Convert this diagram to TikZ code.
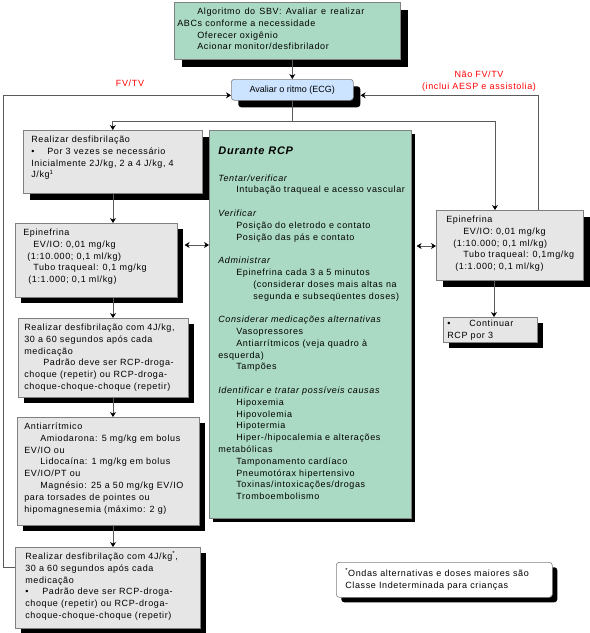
\documentclass[tikz,border=0pt]{standalone}
\usepackage{fontspec}
\setmainfont{Liberation Sans}[LetterSpace=7]
\newfontfamily\ritmofont{Liberation Sans}
\usetikzlibrary{arrows.meta,shadows,calc}
\definecolor{verde}{RGB}{170,218,196}
\definecolor{azul}{RGB}{204,228,255}
\definecolor{cinza}{RGB}{230,230,230}
\definecolor{borda}{RGB}{128,128,128}
\definecolor{traco}{RGB}{90,90,90}
\definecolor{vermelho}{RGB}{255,0,0}
\newcommand{\linhas}[1]{\begin{tabular}{@{}l@{}}#1\end{tabular}}
\newcommand{\bloco}[3]{\parbox[t][#2][t]{#1}{\linhas{#3}}}
\newcommand{\marca}[1]{\makebox[#1][l]{\textbullet}}

\begin{document}
\begin{tikzpicture}[x=1pt, y=-1pt,
  caixa/.style={draw=borda, line width=0.6pt, anchor=north west, inner xsep=7pt, inner ysep=4pt,
    font=\fontsize{9}{11.8}\selectfont,
    drop shadow={shadow xshift=#1, shadow yshift=-#1, fill=black, opacity=1}},
  caixa/.default=6pt,
  rotulo/.style={text=vermelho, font=\fontsize{9}{11.8}\selectfont},
  liga/.style={draw=traco, line width=0.7pt},
  >={Stealth[length=5pt, width=6pt, color=black]}]
\useasboundingbox (0,0) rectangle (590,633);

% caixas
\node[caixa=8pt, fill=verde, inner xsep=3pt] (topo) at (174,2) {\bloco{220pt}{49pt}{%
  \hspace*{20pt}\makebox[167pt][s]{Algoritmo do SBV: Avaliar e realizar}\\
  ABCs conforme a necessidade\\
  \hspace*{20pt}Oferecer oxigênio\\
  \hspace*{20pt}Acionar monitor/desfibrilador}};
\node[caixa=7pt, fill=azul, rounded corners=3pt, inner sep=0pt, minimum width=122pt, minimum height=21pt,
  font=\ritmofont\fontsize{9}{11}\selectfont] (ritmo) at (231,79) {Avaliar o ritmo (ECG)};
\node[caixa=7pt, fill=cinza, inner xsep=8pt] (desf1) at (23,130) {\bloco{163pt}{55pt}{%
  Realizar desfibrilação\\
  \marca{16pt}Por 3 vezes se necessário\\
  Inicialmente 2J/kg, 2 a 4 J/kg, 4\\
  J/kg\textsuperscript{1}}};
\node[caixa, fill=cinza, inner xsep=8pt] (epi1) at (15,223) {\bloco{146pt}{66pt}{%
  Epinefrina\\
  \hspace*{10pt}EV/IO: 0,01 mg/kg\\
  \hspace*{4pt}(1:10.000; 0,1 ml/kg)\\
  \hspace*{10pt}Tubo traqueal: 0,1 mg/kg\\
  \hspace*{5pt}(1:1.000; 0,1 ml/kg)}};
\node[caixa, fill=cinza, inner xsep=6pt] (desf2) at (18,318) {\bloco{158pt}{71pt}{%
  Realizar desfibrilação com 4J/kg,\\
  30 a 60 segundos após cada\\
  medicação\\
  \hspace*{19pt}Padrão deve ser RCP-droga-\\
  choque (repetir) ou RCP-droga-\\
  choque-choque-choque (repetir)}};
\node[caixa, fill=cinza] (antiarr) at (17,417) {\bloco{168pt}{100pt}{%
  Antiarrítmico\\
  \hspace*{16pt}Amiodarona: 5 mg/kg em bolus\\
  EV/IO ou\\
  \hspace*{16pt}Lidocaína: 1 mg/kg em bolus\\
  EV/IO/PT ou\\
  \hspace*{16pt}Magnésio: 25 a 50 mg/kg EV/IO\\
  para torsades de pointes ou\\
  hipomagnesemia (máximo: 2 g)}};
\node[caixa, fill=cinza, inner xsep=10pt] (desf3) at (15,547) {\bloco{165pt}{73pt}{%
  Realizar desfibrilação com 4J/kg\textsuperscript{*},\\
  30 a 60 segundos após cada\\
  medicação\\
  \marca{17pt}Padrão deve ser RCP-droga-\\
  choque (repetir) ou RCP-droga-\\
  choque-choque-choque (repetir)}};
\node[caixa=4pt, fill=verde, inner xsep=9pt] (rcp) at (209,130) {\bloco{184pt}{380pt}{%
  \rule{0pt}{20pt}{\fontsize{11}{11.8}\selectfont\bfseries\itshape Durante RCP}\\[15pt]
  \textit{Tentar/verificar}\\
  \hspace*{18pt}Intubação traqueal e acesso vascular\\[11.8pt]
  \textit{Verificar}\\
  \hspace*{18pt}Posição do eletrodo e contato\\
  \hspace*{18pt}Posição das pás e contato\\[11.8pt]
  \textit{Administrar}\\
  \hspace*{18pt}Epinefrina cada 3 a 5 minutos\\
  \hspace*{35pt}(considerar doses mais altas na\\
  \hspace*{35pt}segunda e subseqüentes doses)\\[11.8pt]
  \textit{Considerar medicações alternativas}\\
  \hspace*{18pt}Vasopressores\\
  \hspace*{18pt}Antiarrítmicos (veja quadro à\\
  esquerda)\\
  \hspace*{18pt}Tampões\\[11.8pt]
  \textit{Identificar e tratar possíveis causas}\\
  \hspace*{18pt}Hipoxemia\\
  \hspace*{18pt}Hipovolemia\\
  \hspace*{18pt}Hipotermia\\
  \hspace*{18pt}Hiper-/hipocalemia e alterações\\
  metabólicas\\
  \hspace*{18pt}Tamponamento cardíaco\\
  \hspace*{18pt}Pneumotórax hipertensivo\\
  \hspace*{18pt}Toxinas/intoxicações/drogas\\
  \hspace*{18pt}Tromboembolismo}};
\node[caixa=7pt, fill=cinza, inner xsep=10pt] (epi2) at (436,210) {\bloco{127pt}{62pt}{%
  Epinefrina\\
  \hspace*{17pt}EV/IO: 0,01 mg/kg\\
  \hspace*{7pt}(1:10.000; 0,1 ml/kg)\\
  \hspace*{17pt}Tubo traqueal: 0,1mg/kg\\
  \hspace*{9pt}(1:1.000; 0,1 ml/kg)}};
\node[caixa, fill=cinza, inner xsep=4pt, inner ysep=1pt] (cont) at (443,317) {\bloco{86pt}{23pt}{%
  \marca{22pt}Continuar\\
  RCP por 3}};
\node[caixa=5pt, fill=white, rounded corners=3pt, inner xsep=9pt, inner ysep=6pt] (nota) at (336,562) {\bloco{198pt}{23pt}{%
  \textsuperscript{*}Ondas alternativas e doses maiores são\\
  Classe Indeterminada para crianças}};

% rotulos
\node[rotulo] (fv) at (130,83) {FV/TV};
\node[rotulo, align=center] (naofv) at (479,81) {Não FV/TV\\(inclui AESP e assistolia)};

% ligacoes
\coordinate (eixo) at (113,0);
\draw[liga,->] (topo.south -| ritmo.north) -- (ritmo.north);
\draw[liga,->] (ritmo.south) -- ++(0,21) -| (desf1.north);
\draw[liga,->] (ritmo.south) -- ++(0,21) -| (epi2.north -| 495,0);
\draw[liga,->] (desf1.south -| eixo) -- (epi1.north -| eixo);
\draw[liga,->] (epi1.south -| eixo) -- (desf2.north -| eixo);
\draw[liga,->] (desf2.south -| eixo) -- (antiarr.north -| eixo);
\draw[liga,->] (antiarr.south -| eixo) -- (desf3.north -| eixo);
\draw[liga,->] (desf3.west |- 0,567) -- ++(-12,0) |- ($(ritmo.west)+(0,5.5)$);
\draw[liga,->] (epi2.north -| 538,0) |- ($(ritmo.east)+(7,5.5)$);
\draw[liga,<->] ($(epi1.east |- 0,245)+(7,0)$) -- (rcp.west |- 0,245);
\draw[liga,<->] ($(rcp.east |- 0,246)+(5,0)$) -- (epi2.west |- 0,246);
\draw[liga,->] (epi2.south -| 494,0) -- (cont.north -| 494,0);
\end{tikzpicture}
\end{document}
